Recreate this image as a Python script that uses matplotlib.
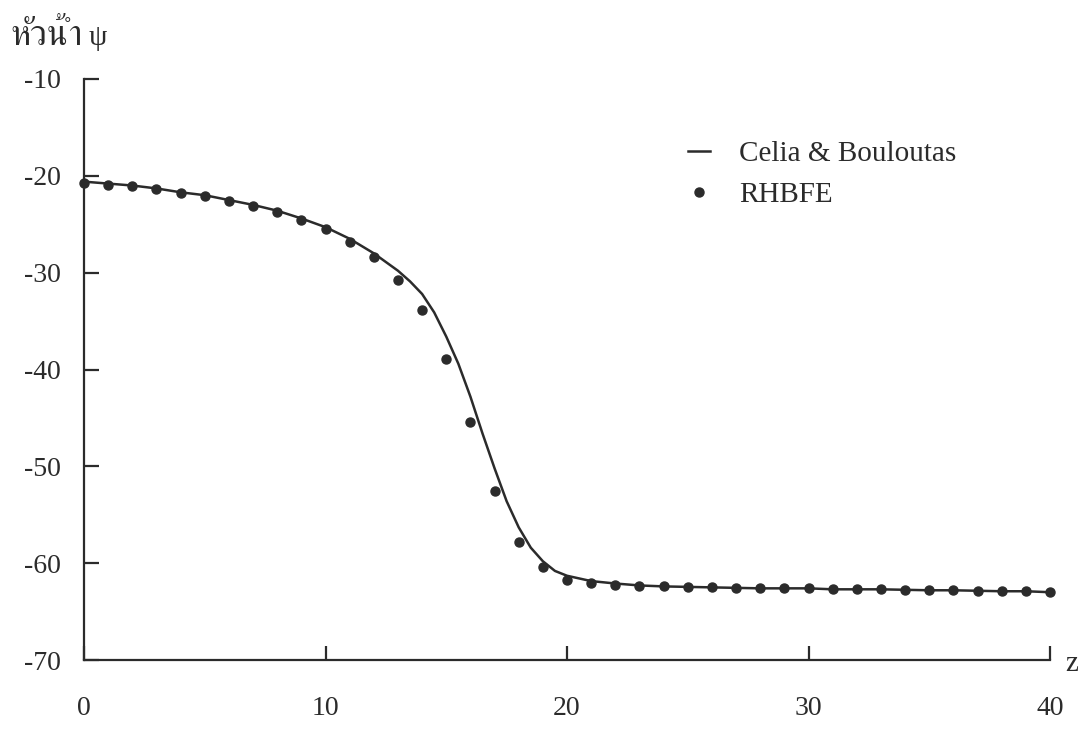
import matplotlib
matplotlib.use("Agg")
import matplotlib.pyplot as plt
import matplotlib.font_manager as fm
from matplotlib.lines import Line2D
from fontTools.ttLib import TTFont

# Celia & Bouloutas (solid line)
line_z = [0, 1, 2, 3, 4, 5, 6, 7, 8, 9, 10, 11, 12, 13, 13.5, 14, 14.5, 15, 15.5,
          16, 16.5, 17, 17.5, 18, 18.5, 19, 19.5, 20, 21, 22, 23, 24, 25, 26, 27,
          28, 29, 30, 31, 32, 33, 34, 35, 36, 37, 38, 39, 40]
line_psi = [-20.6, -20.8, -21.0, -21.3, -21.7, -22.0, -22.5, -23.0, -23.6, -24.4,
            -25.3, -26.5, -28.0, -29.8, -30.9, -32.2, -34.1, -36.6, -39.4,
            -42.8, -46.6, -50.2, -53.6, -56.3, -58.4, -59.8, -60.8, -61.3, -61.85,
            -62.1, -62.3, -62.4, -62.45, -62.5, -62.55, -62.6, -62.6, -62.6, -62.7,
            -62.7, -62.7, -62.75, -62.8, -62.8, -62.85, -62.9, -62.9, -63.0]

# RHBFE (dots), one per unit of z
dot_z = list(range(0, 41))
dot_psi = [-20.7, -20.9, -21.1, -21.4, -21.8, -22.1, -22.6, -23.1, -23.75, -24.6,
           -25.5, -26.8, -28.4, -30.8, -33.9, -38.9, -45.4, -52.5, -57.8, -60.4,
           -61.7, -62.05, -62.3, -62.4, -62.4, -62.5, -62.5, -62.55, -62.6, -62.6,
           -62.6, -62.7, -62.7, -62.7, -62.75, -62.8, -62.8, -62.85, -62.9, -62.9,
           -63.0]

x_ticks = [0, 10, 20, 30, 40]
y_ticks = [-10, -20, -30, -40, -50, -60, -70]
legend_labels = ["Celia & Bouloutas", "RHBFE"]
y_title = "หัวน้ำ"
x_title = "z"

INK = "#2b2b2b"


def find_thai_font():
    # look for an installed font that carries Thai glyphs, serif first
    found = []
    for f in fm.fontManager.ttflist:
        try:
            cmap = TTFont(f.fname, fontNumber=0, lazy=True).getBestCmap()
        except Exception:
            continue
        if cmap and 0x0E2B in cmap and 0x0E49 in cmap:
            found.append(f.name)
    for name in found:
        if "Serif" in name:
            return name
    return found[0] if found else "DejaVu Sans"


serif = "Liberation Serif"
thai = find_thai_font()
plt.rcParams["font.family"] = [serif, "DejaVu Serif"]

fig = plt.figure(figsize=(10.91, 7.34), dpi=100)
ax = fig.add_axes([84 / 1091, 1 - 660 / 734, (1050 - 84) / 1091, (660 - 79) / 734])

ax.plot(line_z, line_psi, color=INK, lw=1.8, clip_on=False)
ax.plot(dot_z, dot_psi, "o", color=INK, ms=6.5, clip_on=False)

ax.set_xlim(0, 40)
ax.set_ylim(-70, -10)
ax.set_xticks(x_ticks)
ax.set_yticks(y_ticks)
ax.set_xticklabels([str(t) for t in x_ticks])
ax.set_yticklabels([str(t) for t in y_ticks])

for side in ["top", "right"]:
    ax.spines[side].set_visible(False)
for side in ["left", "bottom"]:
    ax.spines[side].set_linewidth(1.6)
    ax.spines[side].set_color(INK)

ax.tick_params(axis="x", direction="in", length=10, width=1.6, color=INK,
               pad=26, labelsize=20, labelcolor=INK)
ax.tick_params(axis="y", direction="in", length=11, width=1.6, color=INK,
               pad=17, labelsize=20, labelcolor=INK)

handles = [Line2D([], [], color=INK, lw=1.8),
           Line2D([], [], ls="none", marker="o", color=INK, ms=6.5)]
leg = ax.legend(handles, legend_labels, loc="upper left",
                bbox_to_anchor=((688 - 84) / 966, 1 - (141 - 79) / 581),
                frameon=False, fontsize=21, handlelength=0.75,
                handletextpad=1.0, labelspacing=0.5, borderpad=0,
                borderaxespad=0)
for t in leg.get_texts():
    t.set_color(INK)

fig.text(10 / 1091, 1 - 45 / 734, y_title, family=[thai, serif], fontsize=25,
         color=INK, va="baseline", ha="left")
fig.text(89 / 1091, 1 - 45 / 734, "ψ", family=[serif, "DejaVu Serif"],
         fontsize=21, color=INK, va="baseline", ha="left")
fig.text(1072 / 1091, 1 - 664 / 734, x_title, fontsize=21, color=INK,
         va="center", ha="center")

fig.savefig("out.png", dpi=100)
